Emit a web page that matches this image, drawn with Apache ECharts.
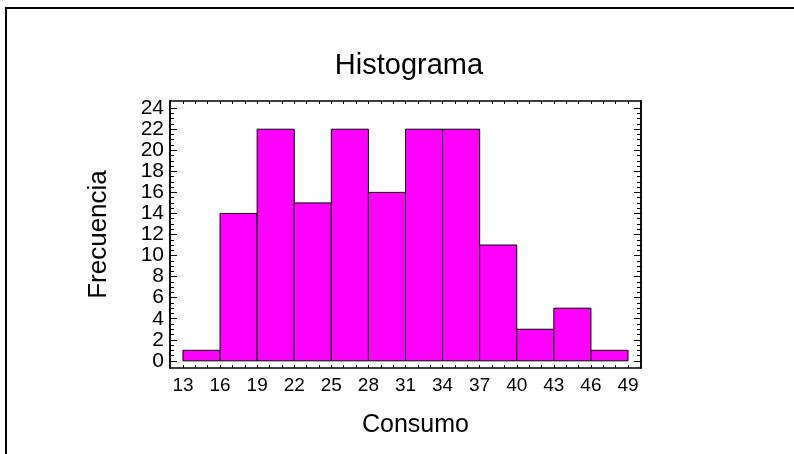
<!DOCTYPE html>
<html>
<head>
<meta charset="utf-8">
<script src="https://cdn.jsdelivr.net/npm/echarts@6/dist/echarts.min.js"></script>
<style>
html,body{margin:0;padding:0;background:#fff;}
#chart{width:794px;height:454px;}
</style>
</head>
<body>
<div id="chart"></div>
<script>
// Data
const binStarts = [13, 16, 19, 22, 25, 28, 31, 34, 37, 40, 43, 46];
const binEnds   = [16, 19, 22, 25, 28, 31, 34, 37, 40, 43, 46, 49];
const frequencies = [1, 14, 22, 15, 22, 16, 22, 22, 11, 3, 5, 1];
const xTickLabels = [13, 16, 19, 22, 25, 28, 31, 34, 37, 40, 43, 46, 49];
const yTickLabels = [0, 2, 4, 6, 8, 10, 12, 14, 16, 18, 20, 22, 24];
const xMinorTicks = [];
for (let v = 13; v <= 49; v++) xMinorTicks.push(v);
const yMinorTicks = [];
for (let v = 0; v <= 24; v += 0.5) yMinorTicks.push(v);

const FONT = '"Liberation Sans", Arial, sans-serif';
const chart = echarts.init(document.getElementById('chart'), null, {renderer: 'canvas'});

const seriesData = binStarts.map((s, i) => [s, binEnds[i], frequencies[i]]);

const lineStyle = {color: '#000', width: 1.5};
function xAx(pos, withLabels) {
  return {
    type: 'value', position: pos, min: 11.95, max: 50.05,
    splitLine: {show: false},
    axisLine: {show: true, onZero: false, lineStyle: lineStyle},
    axisTick: {show: true, inside: true, length: 3, customValues: xMinorTicks, lineStyle: {color: '#000', width: 1}},
    axisLabel: withLabels ? {show: true, customValues: xTickLabels, fontFamily: FONT, fontSize: 19, color: '#000', margin: 8} : {show: false},
    name: withLabels ? 'Consumo' : '',
    nameLocation: 'middle', nameGap: 45,
    nameTextStyle: {fontFamily: FONT, fontSize: 25, color: '#000', padding: [0, 0, 0, 20]}
  };
}
function yAx(pos, ticks, len, withLabels) {
  return {
    type: 'value', position: pos, min: -0.68, max: 24.68,
    splitLine: {show: false},
    axisLine: {show: true, onZero: false, lineStyle: lineStyle},
    axisTick: {show: true, inside: true, length: len, customValues: ticks, lineStyle: {color: '#000', width: 1}},
    axisLabel: withLabels ? {show: true, customValues: yTickLabels, fontFamily: FONT, fontSize: 21, color: '#000', margin: 6, lineHeight: 20} : {show: false},
    name: withLabels ? 'Frecuencia' : '',
    nameLocation: 'middle', nameGap: 58, nameRotate: 90,
    nameTextStyle: {fontFamily: FONT, fontSize: 26, color: '#000'}
  };
}

const option = {
  backgroundColor: '#fff',
  animation: false,
  title: {
    text: 'Histograma', top: 46,
    left: 404, textAlign: 'center',
    textStyle: {fontFamily: FONT, fontSize: 29, fontWeight: 'normal', color: '#000'}
  },
  graphic: [{
    type: 'rect', shape: {x: 6, y: 8, width: 1000, height: 1000},
    style: {fill: 'none', stroke: '#000', lineWidth: 2}, z: 100
  }],
  grid: {left: 170, right: 153, top: 101, bottom: 86},
  xAxis: [xAx('bottom', true), xAx('top', false)],
  yAxis: [
    yAx('left', yTickLabels, 7, true),
    yAx('left', yMinorTicks, 4, false),
    yAx('right', yTickLabels, 7, false),
    yAx('right', yMinorTicks, 4, false)
  ],
  series: [{
    type: 'custom',
    xAxisIndex: 0, yAxisIndex: 0,
    data: seriesData,
    renderItem: function (params, api) {
      const p0 = api.coord([api.value(0), api.value(2)]);
      const p1 = api.coord([api.value(1), 0]);
      return {
        type: 'rect',
        shape: {x: p0[0], y: p0[1], width: p1[0] - p0[0], height: p1[1] - p0[1]},
        style: {fill: '#FF00FF', stroke: '#000', lineWidth: 1}
      };
    },
    encode: {x: [0, 1], y: 2}
  }]
};
chart.setOption(option);
</script>
</body>
</html>
